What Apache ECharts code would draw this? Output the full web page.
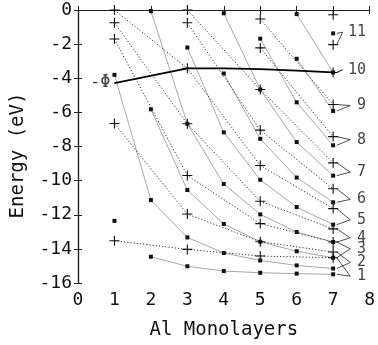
<!DOCTYPE html>
<html><head><meta charset="utf-8">
<script src="https://cdn.jsdelivr.net/npm/echarts@6/dist/echarts.min.js"></script>
<style>html,body{margin:0;padding:0;background:#fff}#c{width:378px;height:345px}</style>
</head><body><div id="c"></div>
<script>
// ---- data ----
const oddLayers = [1, 3, 5, 7];
const allLayers = [1, 2, 3, 4, 5, 6, 7];
const xTickValues = [0, 1, 2, 3, 4, 5, 6, 7, 8];
const yTickValues = [0, -2, -4, -6, -8, -10, -12, -14, -16];

// "+" states at odd thicknesses (band index from bottom)
const plusBand1  = [-13.52, -14.03, -14.42, -14.52];
const plusBand2  = [-6.65, -11.96, -13.58, -14.18];
const plusBand3  = [-1.7, -9.7, -12.52, -13.6];
const plusBand4  = [-0.75, -6.67, -11.21, -12.83];
const plusBand5  = [0, -3.42, -9.11, -11.64];
const plusBand6  = [null, -0.75, -7.04, -10.48];
const plusBand7  = [null, 0, -4.66, -8.96];
const plusBand8  = [null, null, -2.22, -7.42];
const plusBand9  = [null, null, -0.53, -5.54];
const plusBand10 = [null, null, null, -3.66];
const plusBand11 = [null, null, null, -2.03];
const plusBand12 = [null, null, null, -0.28];

// dot states at every thickness 1..7
const dotBand1Start = [-12.36];
const dotBand1  = [null, -14.46, -15.02, -15.3, -15.4, -15.45, -15.49];
const dotBand2  = [-3.8, -11.14, -13.33, -14.24, -14.68, -14.97, -15.15];
const dotBand3  = [null, -5.82, -10.55, -12.54, -13.58, -14.14, -14.52];
const dotBand4  = [null, -0.06, -6.67, -10.2, -11.98, -13.01, -13.6];
const dotBand5  = [null, null, -2.2, -7.17, -9.95, -11.55, -12.58];
const dotBand6  = [null, null, null, -3.72, -7.55, -9.82, -11.27];
const dotBand7  = [null, null, null, -0.19, -4.66, -7.74, -9.71];
const dotBand8  = [null, null, null, null, -1.68, -5.41, -7.93];
const dotBand9  = [null, null, null, null, null, -2.86, -5.92];
const dotBand10 = [null, null, null, null, null, -0.24, -3.66];
const dotBand11 = [null, null, null, null, null, null, -1.37];

// work function (−Φ)
const phiLayers = [1, 3, 4, 5, 6, 7];
const phiEnergy = [-4.28, -3.42, -3.42, -3.47, -3.55, -3.66];

// band labels on the right and the energies they sit at
const bandLabels = ['1','2','3','4','5','6','7','8','9','10','11'];
const bandLabelEnergy = [-15.6, -14.8, -14.0, -13.35, -12.3, -11.1, -9.5, -7.6, -5.6, -3.5, -1.3];

// ---- build ----
const plusBands = [plusBand1,plusBand2,plusBand3,plusBand4,plusBand5,plusBand6,plusBand7,plusBand8,plusBand9,plusBand10,plusBand11,plusBand12];
const dotBands = [dotBand1,dotBand2,dotBand3,dotBand4,dotBand5,dotBand6,dotBand7,dotBand8,dotBand9,dotBand10,dotBand11];

const plusPath = 'path://M0,4.45H10V5.55H0Z M4.45,0H5.55V10H4.45Z';
const FONT = 'DejaVu Sans Mono';

function pairs(xs, ys){ return xs.map((x,i)=>[x, ys[i]]).filter(p=>p[1]!==null && p[1]!==undefined); }

const series = [];
dotBands.forEach((b,i)=>{
  series.push({type:'line', data: pairs(allLayers,b), symbol:'rect', symbolSize:4,
    itemStyle:{color:'#111'}, lineStyle:{color:'#909090', width:0.8}, z:3, silent:true, animation:false});
});
series.push({type:'line', data: pairs([1], dotBand1Start), symbol:'rect', symbolSize:4,
  itemStyle:{color:'#111'}, lineStyle:{width:0}, z:3, animation:false});
plusBands.forEach((b,i)=>{
  series.push({type:'line', data: pairs(oddLayers,b), symbol:plusPath, symbolSize:10,
    itemStyle:{color:'#111'}, lineStyle:{color:'#333', width:1, type:[1.2,2]}, z:4, animation:false});
});
series.push({type:'line', data: pairs(phiLayers, phiEnergy), symbol:'none',
  lineStyle:{color:'#000', width:1.8}, z:5, animation:false});
// −Φ label
series.push({type:'scatter', data:[[1, phiEnergy[0]]], symbolSize:0,
  label:{show:true, formatter:'-Φ', position:'left', distance:4, color:'#111', fontFamily:FONT, fontSize:17}, z:6, animation:false});

// band labels + leader lines
const leaderData = [];
const labelPts = [];
bandLabels.forEach((t,i)=>{
  const ly = bandLabelEnergy[i];
  const xEnd = t.length > 1 ? 7.26 : 7.47;
  const pe = plusBands[i][3], de = dotBands[i][6];
  [pe, de].forEach(e=>{ if(e!==null) leaderData.push({coords:[[7.1, e],[xEnd, ly]]}); });
  labelPts.push({value:[7.9, ly], name:t});
});
series.push({type:'lines', coordinateSystem:'cartesian2d', data: leaderData,
  lineStyle:{color:'#222', width:0.8, opacity:1}, z:6, animation:false});
series.push({type:'scatter', data: labelPts, symbolSize:0,
  label:{show:true, formatter:p=>p.name, position:'inside', align:'right', verticalAlign:'middle',
    color:'#111', fontFamily:FONT, fontSize:15}, z:7, animation:false});

const tickStyle = {show:true, inside:true, length:4, lineStyle:{color:'#222', width:1}};
const axisLine = {show:true, lineStyle:{color:'#222', width:1.2}};

const option = {
  backgroundColor:'#fff',
  animation:false,
  grid:{left:78, right:3, top:10, bottom:51, containLabel:false},
  xAxis:[
    {type:'value', min:0, max:8, interval:1, position:'bottom', axisLine, axisTick:tickStyle,
     splitLine:{show:false},
     axisLabel:{color:'#111', fontFamily:FONT, fontSize:18, margin:8, formatter:v=>String(xTickValues[v])},
     name:'Al Monolayers', nameLocation:'middle', nameGap:38,
     nameTextStyle:{color:'#111', fontFamily:FONT, fontSize:19}},
    {type:'value', min:0, max:8, interval:1, position:'top', axisLine, axisTick:tickStyle,
     axisLabel:{show:false}, splitLine:{show:false}}
  ],
  yAxis:[
    {type:'value', min:-16, max:0, interval:2, position:'left', axisLine, axisTick:tickStyle,
     splitLine:{show:false},
     axisLabel:{color:'#111', fontFamily:FONT, fontSize:18, margin:6, formatter:v=>yTickValues.includes(v)?String(v):''},
     name:'Energy (eV)', nameLocation:'middle', nameGap:50,
     nameTextStyle:{color:'#111', fontFamily:FONT, fontSize:19, padding:[0,0,0,-18]}},
    {type:'value', min:-16, max:0, interval:2, position:'right', axisLine, axisTick:tickStyle,
     axisLabel:{show:false}, splitLine:{show:false}}
  ],
  series
};
const chart = echarts.init(document.getElementById('c'), null, {renderer:'canvas'});
chart.setOption(option);
</script></body></html>
